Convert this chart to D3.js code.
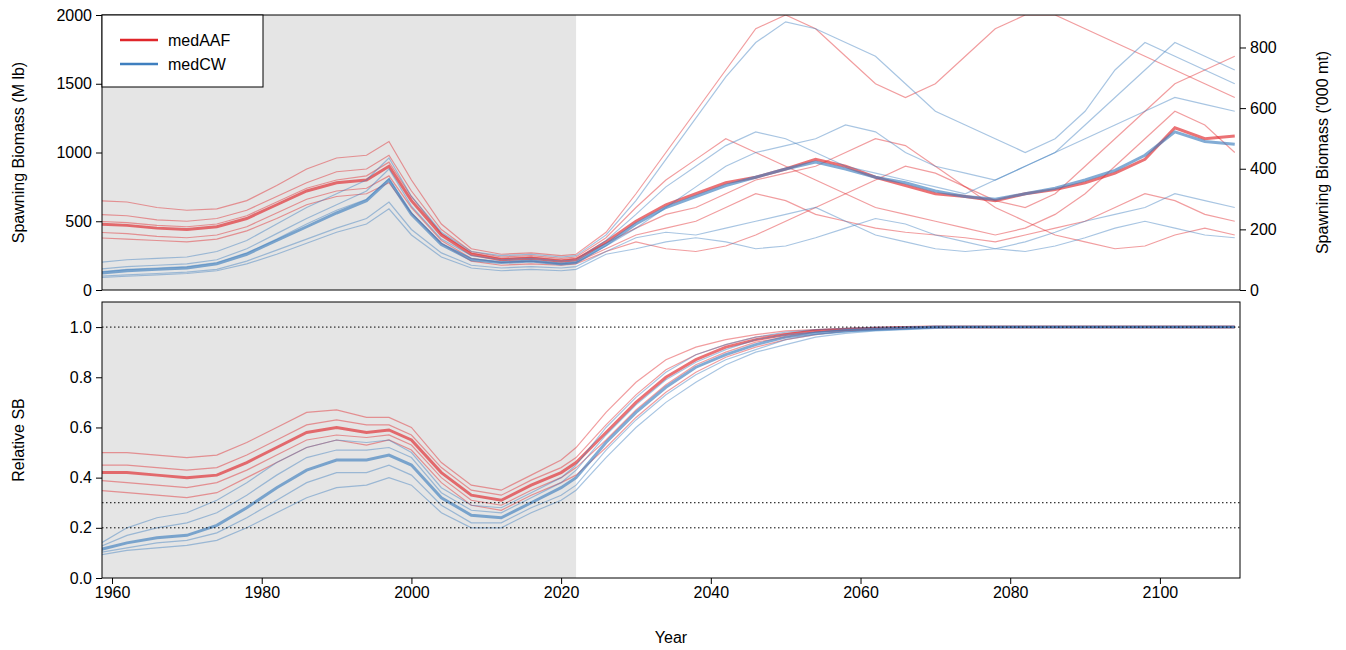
<!DOCTYPE html><html><head><meta charset="utf-8">
<script src="https://cdn.jsdelivr.net/npm/d3@7"></script>
<style>body{margin:0;background:#fff}text{font-family:Arial,"Liberation Sans",sans-serif}</style></head><body>
<svg id="c" width="1346" height="650"></svg>
<script>
const years=[1958,1962,1966,1970,1974,1978,1982,1986,1990,1994,1997,2000,2004,2008,2012,2016,2020,2022,
2026,2030,2034,2038,2042,2046,2050,2054,2058,2062,2066,2070,2074,2078,2082,2086,2090,2094,2098,2102,2106,2110];
const sbAAF=[
[480,470,450,440,460,520,620,720,780,800,900,650,400,260,220,230,210,220,350,500,620,700,780,820,880,950,900,820,760,700,680,650,700,730,780,850,950,1180,1100,1120],
[650,640,600,580,590,650,760,880,960,980,1080,800,480,300,260,270,250,260,420,700,1000,1300,1600,1900,2000,1900,1700,1500,1400,1500,1700,1900,2000,2000,1900,1800,1700,1600,1500,1400],
[420,410,390,380,400,460,560,660,720,740,830,600,360,230,200,210,190,200,300,400,450,500,600,700,650,550,500,450,420,400,380,350,400,450,500,600,700,650,550,500],
[550,540,510,500,520,580,680,780,860,880,980,720,440,280,240,250,230,240,380,600,800,950,1100,1000,900,800,700,600,550,500,450,400,450,550,700,900,1100,1300,1200,1000],
[380,370,360,350,370,430,520,620,680,700,780,560,340,210,180,190,180,190,280,350,300,280,320,400,500,600,700,800,900,850,750,600,500,400,350,300,320,400,450,400],
[500,490,470,460,480,540,640,740,800,830,930,680,410,270,230,240,220,230,340,450,550,600,700,800,850,900,1000,1100,1050,900,750,650,600,700,900,1100,1300,1500,1600,1700]];
const sbCW=[
[120,140,150,160,190,260,360,460,560,650,800,550,330,220,200,210,190,200,330,480,600,680,760,820,880,930,880,820,780,720,680,660,700,740,800,870,980,1150,1080,1060],
[200,220,230,240,280,360,480,600,700,800,960,680,420,280,250,260,240,250,400,650,950,1250,1550,1800,1950,1900,1800,1700,1500,1300,1200,1100,1000,1100,1300,1600,1800,1700,1600,1500],
[100,110,120,130,150,210,290,370,450,520,640,440,270,180,160,170,160,170,280,380,420,400,450,500,550,600,500,400,350,300,280,300,350,420,500,550,600,700,650,600],
[150,170,180,190,220,300,410,520,620,720,880,610,370,250,220,230,210,220,360,550,750,900,1050,1150,1100,1000,900,850,800,750,700,800,900,1000,1100,1200,1300,1400,1350,1300],
[90,100,110,120,140,190,260,340,420,480,590,400,240,160,140,150,140,150,260,300,350,380,350,300,320,380,450,520,480,400,350,300,280,320,380,450,500,450,400,380],
[130,150,160,170,200,270,370,480,580,660,810,560,340,230,200,210,190,200,320,450,600,750,900,1000,1050,1100,1200,1150,1000,900,850,800,900,1000,1200,1400,1600,1800,1700,1600]];
const relAAF=[
[0.42,0.42,0.41,0.40,0.41,0.46,0.52,0.58,0.60,0.58,0.59,0.55,0.42,0.33,0.31,0.37,0.42,0.46,0.58,0.70,0.80,0.87,0.92,0.95,0.97,0.985,0.99,0.995,0.998,1,1,1,1,1,1,1,1,1,1,1],
[0.50,0.50,0.49,0.48,0.49,0.54,0.60,0.66,0.67,0.64,0.64,0.60,0.46,0.37,0.35,0.41,0.47,0.52,0.66,0.78,0.87,0.92,0.95,0.97,0.985,0.99,0.995,0.998,1,1,1,1,1,1,1,1,1,1,1,1],
[0.35,0.34,0.33,0.32,0.34,0.40,0.46,0.52,0.55,0.53,0.55,0.51,0.38,0.29,0.27,0.33,0.38,0.41,0.52,0.64,0.74,0.82,0.88,0.92,0.95,0.97,0.985,0.99,0.995,1,1,1,1,1,1,1,1,1,1,1],
[0.45,0.45,0.44,0.43,0.44,0.49,0.55,0.61,0.63,0.61,0.61,0.57,0.44,0.35,0.33,0.39,0.44,0.48,0.61,0.73,0.83,0.89,0.93,0.96,0.975,0.988,0.993,0.997,1,1,1,1,1,1,1,1,1,1,1,1],
[0.39,0.38,0.37,0.36,0.38,0.43,0.49,0.55,0.57,0.56,0.57,0.53,0.40,0.31,0.29,0.35,0.40,0.44,0.55,0.67,0.77,0.85,0.90,0.94,0.96,0.98,0.988,0.993,0.997,1,1,1,1,1,1,1,1,1,1,1]];
const relCW=[
[0.11,0.14,0.16,0.17,0.21,0.28,0.36,0.43,0.47,0.47,0.49,0.45,0.32,0.25,0.24,0.30,0.36,0.40,0.54,0.66,0.76,0.84,0.89,0.93,0.96,0.975,0.985,0.99,0.995,1,1,1,1,1,1,1,1,1,1,1],
[0.13,0.20,0.24,0.26,0.31,0.38,0.46,0.52,0.55,0.54,0.55,0.50,0.36,0.29,0.28,0.34,0.40,0.45,0.60,0.72,0.82,0.89,0.93,0.96,0.98,0.99,0.995,1,1,1,1,1,1,1,1,1,1,1,1,1],
[0.09,0.11,0.12,0.13,0.15,0.20,0.26,0.32,0.36,0.37,0.40,0.37,0.26,0.20,0.20,0.26,0.31,0.35,0.48,0.60,0.70,0.78,0.85,0.90,0.93,0.96,0.975,0.985,0.99,0.995,1,1,1,1,1,1,1,1,1,1],
[0.12,0.17,0.20,0.22,0.26,0.33,0.41,0.48,0.51,0.51,0.52,0.48,0.34,0.27,0.26,0.32,0.38,0.43,0.57,0.69,0.79,0.86,0.91,0.95,0.97,0.98,0.99,0.995,1,1,1,1,1,1,1,1,1,1,1,1],
[0.10,0.12,0.14,0.15,0.18,0.24,0.31,0.38,0.42,0.42,0.45,0.41,0.29,0.22,0.22,0.28,0.33,0.37,0.51,0.63,0.73,0.81,0.87,0.91,0.95,0.97,0.98,0.99,0.993,1,1,1,1,1,1,1,1,1,1,1]];
const xTicks=[1960,1980,2000,2020,2040,2060,2080,2100];
const RED="#E0262B",BLUE="#3F7FBF";
const svg=d3.select("#c");
const L=102,R=1240,T1=15,B1=290,T2=302,B2=578;
const x=d3.scaleLinear().domain([1958.66,2110.7]).range([L,R]);
const y1=d3.scaleLinear().domain([0,2000]).range([B1,T1]);
const y1r=d3.scaleLinear().domain([0,2000/2.20462]).range([B1,T1]);
const y2=d3.scaleLinear().domain([0,1.1]).range([B2,T2]);
svg.append("defs").selectAll("clipPath").data([[T1,B1],[T2,B2]]).join("clipPath").attr("id",(d,i)=>"cp"+i)
 .append("rect").attr("x",L).attr("y",d=>d[0]).attr("width",R-L).attr("height",d=>d[1]-d[0]);
[[T1,B1],[T2,B2]].forEach(([t,b])=>svg.append("rect").attr("x",L).attr("y",t).attr("width",x(2022)-L).attr("height",b-t).attr("fill","#e5e5e5"));
function draw(data,ys,col,cp){
 const g=svg.append("g").attr("clip-path",`url(#${cp})`);
 const ln=d3.line().x((d,i)=>x(years[i])).y(d=>ys(d));
 data.forEach((s,i)=>g.append("path").attr("d",ln(s)).attr("fill","none").attr("stroke",col)
  .attr("stroke-width",i==0?3:1.2).attr("opacity",i==0?0.65:0.45));
}
draw(sbAAF,y1,RED,"cp0");draw(sbCW,y1,BLUE,"cp0");
draw(relAAF,y2,RED,"cp1");draw(relCW,y2,BLUE,"cp1");
[1,0.3,0.2].forEach(v=>svg.append("line").attr("x1",L).attr("x2",R).attr("y1",y2(v)).attr("y2",y2(v)).attr("stroke","#000").attr("stroke-dasharray","1.5,2.5"));
[[T1,B1],[T2,B2]].forEach(([t,b])=>svg.append("rect").attr("x",L).attr("y",t).attr("width",R-L).attr("height",b-t).attr("fill","none").attr("stroke","#000"));
function st(g){g.selectAll("text").attr("font-size",16).attr("fill","#000");g.select(".domain").remove();}
svg.append("g").attr("transform",`translate(${L},0)`).call(d3.axisLeft(y1).tickValues([0,500,1000,1500,2000]).tickFormat(d3.format("d")).tickSize(6).tickPadding(4)).call(st);
svg.append("g").attr("transform",`translate(${R},0)`).call(d3.axisRight(y1r).tickValues([0,200,400,600,800]).tickFormat(d3.format("d")).tickSize(6).tickPadding(4)).call(st);
svg.append("g").attr("transform",`translate(${L},0)`).call(d3.axisLeft(y2).tickValues([0,0.2,0.4,0.6,0.8,1]).tickFormat(d3.format(".1f")).tickSize(6).tickPadding(4)).call(st);
svg.append("g").attr("transform",`translate(0,${B2})`).call(d3.axisBottom(x).tickValues(xTicks).tickFormat(d3.format("d")).tickSize(6).tickPadding(3)).call(st);
const lab=(t,xx,yy,r)=>svg.append("text").text(t).attr("font-size",16).attr("text-anchor","middle").attr("transform",`translate(${xx},${yy}) rotate(${r})`);
lab("Spawning Biomass (M lb)",24,(T1+B1)/2,-90);
lab("Spawning Biomass ('000 mt)",1328,(T1+B1)/2,-90);
lab("Relative SB",24,(T2+B2)/2,-90);
lab("Year",(L+R)/2,643,0);
const lg=svg.append("g");
lg.append("rect").attr("x",L).attr("y",T1).attr("width",161).attr("height",72).attr("fill","#fff").attr("stroke","#000");
[["medAAF",RED,40],["medCW",BLUE,64]].forEach(([t,c,yy])=>{
 lg.append("line").attr("x1",120).attr("x2",158).attr("y1",yy).attr("y2",yy).attr("stroke",c).attr("stroke-width",2.5);
 lg.append("text").text(t).attr("x",168).attr("y",yy+6).attr("font-size",16);
});
</script></body></html>
